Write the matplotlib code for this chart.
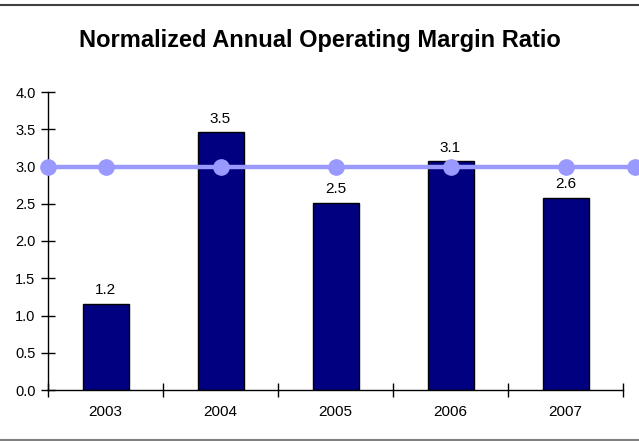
import numpy as np
import matplotlib.pyplot as plt
from matplotlib.lines import Line2D

plt.rcParams['font.family'] = ['Liberation Sans', 'DejaVu Sans']

years = ['2003', '2004', '2005', '2006', '2007']
ratios = [1.16, 3.46, 2.51, 3.07, 2.58]

# benchmark line at 3.0, drawn across the plot area
bench_x = [-0.5, 0, 1, 2, 3, 4, 4.6]
bench_y = [3.0, 3.0, 3.0, 3.0, 3.0, 3.0, 3.0]

fig = plt.figure(figsize=(6.39, 4.41), dpi=100)
ax = fig.add_axes([48 / 639, 1 - 390 / 441, 575 / 639, 298 / 441])

pos = np.arange(len(years))
bars = ax.bar(pos, ratios, width=0.4, color='#000080', edgecolor='black', linewidth=1, zorder=2)
for x, v in zip(pos, ratios):
    ax.text(x, v + 0.09, f'{v:.1f}', ha='center', va='bottom', fontsize=11)

ax.plot(bench_x, bench_y, color='#9999FF', linewidth=3.2, marker='o', markersize=11,
        clip_on=False, zorder=3)

ax.set_xlim(-0.5, len(years) - 0.5)
ax.set_ylim(0, 4)
ax.set_yticks(np.arange(0, 4.01, 0.5))
ax.set_yticklabels([f'{t:.1f}' for t in np.arange(0, 4.01, 0.5)])
ax.set_xticks(pos)
ax.set_xticklabels(years)
ax.set_xticks(np.arange(-0.5, len(years), 1), minor=True)
ax.tick_params(axis='x', which='major', length=0, pad=11, labelsize=11)
ax.tick_params(axis='x', which='minor', direction='inout', length=10, width=1)
ax.tick_params(axis='y', direction='inout', length=10, width=1, labelsize=10.5, pad=4)

ax.spines['top'].set_visible(False)
ax.spines['right'].set_visible(False)
ax.spines['left'].set_linewidth(1)
ax.spines['bottom'].set_linewidth(1)

fig.text(0.5, 1 - 41 / 441, 'Normalized Annual Operating Margin Ratio', ha='center', va='center',
         fontsize=17, fontweight='bold')

# chart area border
fig.add_artist(Line2D([0, 1], [1 - 5 / 441, 1 - 5 / 441], color='#404040', linewidth=1.5))
fig.add_artist(Line2D([0, 1], [1 - 439.5 / 441, 1 - 439.5 / 441], color='#808080', linewidth=1.5))

fig.savefig('out.png', dpi=100)
